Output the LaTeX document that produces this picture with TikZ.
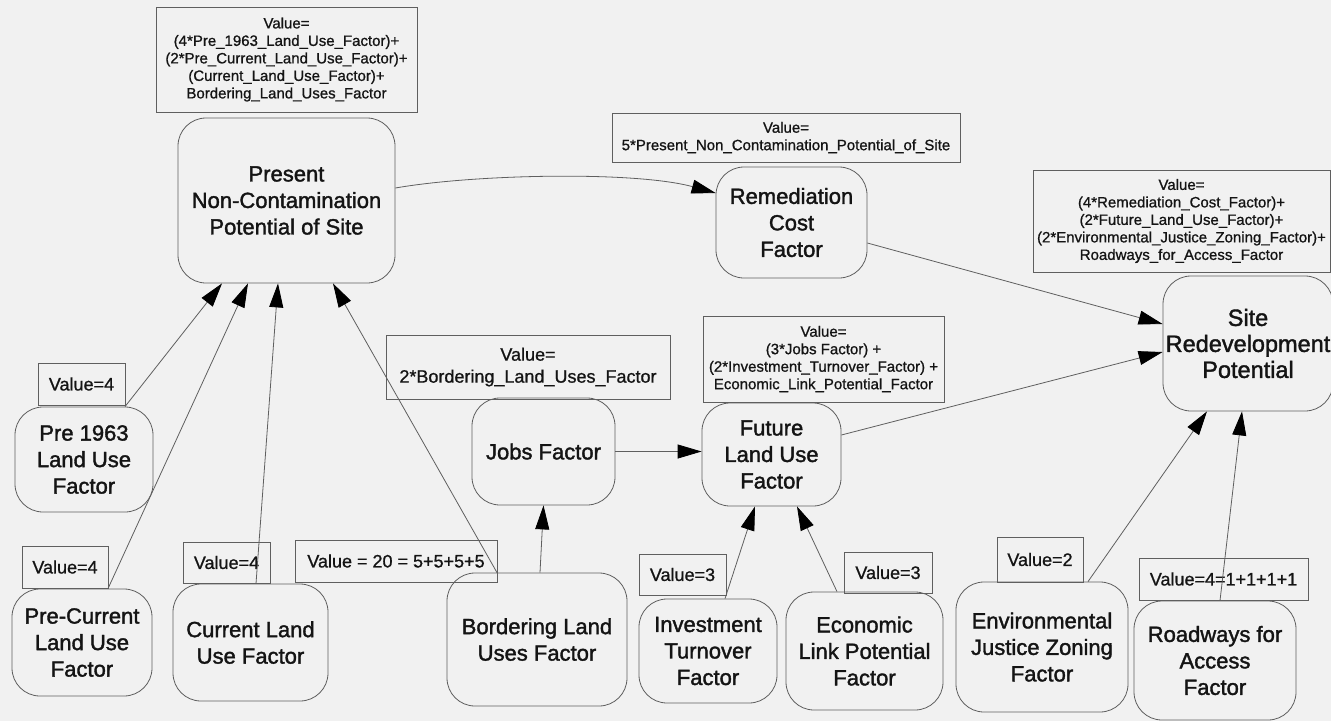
\documentclass[tikz,border=0pt]{standalone}
\usepackage{fontspec}
\setmainfont{Liberation Sans}
\newfontfamily\heavyface{Liberation Sans}[FakeBold=1.6]
\newfontfamily\mediumface{Liberation Sans}[FakeBold=0.9]
\usetikzlibrary{arrows.meta}

\definecolor{paper}{RGB}{241,241,241}
\definecolor{edge}{RGB}{95,95,95}
\definecolor{ink}{RGB}{20,20,20}

\newcommand\factorfont{\heavyface\fontsize{22}{26.5}\selectfont}
\newcommand\sitefont{\heavyface\fontsize{23.5}{26}\selectfont}
\newcommand\formulafont{\mediumface\fontsize{15}{17.5}\selectfont}
\newcommand\valuefont{\mediumface\fontsize{18}{22}\selectfont}

\tikzset{
  factor/.style={draw=edge, line width=0.8pt, rounded corners=28pt, align=center,
                 inner sep=0pt, text=ink, font=\factorfont},
  formula/.style={draw=edge, line width=0.8pt, inner sep=0pt, align=center,
                  text=ink, font=\formulafont},
  valuebox/.style={formula, font=\valuefont},
  link/.style={draw=edge, line width=0.8pt,
               -{Triangle[length=24pt,width=14pt,color=black]}},
}

\begin{document}
\begin{tikzpicture}[x=1pt,y=-1pt]
  \fill[paper] (0,0) rectangle (1331,721);
  \useasboundingbox (0,0) rectangle (1331,721);

  % factor nodes
  \node[factor, minimum width=217, minimum height=165] (pnc) at (286.5,200.5)
    {Present\\Non-Contamination\\Potential of Site};
  \node[factor, minimum width=151, minimum height=111] (rem) at (791.5,222.5)
    {Remediation\\Cost\\Factor};
  \node[factor, font=\sitefont, minimum width=170, minimum height=135] (site) at (1248,343.5)
    {Site\\Redevelopment\\Potential};
  \node[factor, minimum width=138, minimum height=105] (pre) at (84,459.5)
    {Pre 1963\\Land Use\\Factor};
  \node[factor, minimum width=140, minimum height=107] (precur) at (82,642.5)
    {Pre-Current\\Land Use\\Factor};
  \node[factor, minimum width=155, minimum height=117] (cur) at (250.5,642.5)
    {Current Land\\Use Factor};
  \node[factor, minimum width=180, minimum height=133] (bord) at (537,639.5)
    {Bordering Land\\Uses Factor};
  \node[factor, minimum width=143, minimum height=107] (jobs) at (543.5,451.5)
    {Jobs Factor};
  \node[factor, minimum width=139, minimum height=103] (flu) at (771.5,454.5)
    {Future\\Land Use\\Factor};
  \node[factor, minimum width=138, minimum height=104] (inv) at (708,651)
    {Investment\\Turnover\\Factor};
  \node[factor, minimum width=157, minimum height=118] (econ) at (864.5,651)
    {Economic\\Link Potential\\Factor};
  \node[factor, minimum width=172, minimum height=130] (env) at (1042,647)
    {Environmental\\Justice Zoning\\Factor};
  \node[factor, minimum width=162, minimum height=119] (road) at (1215,660.5)
    {Roadways for\\Access\\Factor};

  % value formulas
  \node[formula, minimum width=261, minimum height=105] (pncv) at (286.5,59.5)
    {Value=\\(4*Pre\_1963\_Land\_Use\_Factor)+\\(2*Pre\_Current\_Land\_Use\_Factor)+\\(Current\_Land\_Use\_Factor)+\\Bordering\_Land\_Uses\_Factor};
  \node[formula, minimum width=348, minimum height=49] (remv) at (786,137.5)
    {Value=\\5*Present\_Non\_Contamination\_Potential\_of\_Site};
  \node[formula, minimum width=297, minimum height=102] (sitev) at (1181.5,221)
    {Value=\\(4*Remediation\_Cost\_Factor)+\\(2*Future\_Land\_Use\_Factor)+\\(2*Environmental\_Justice\_Zoning\_Factor)+\\Roadways\_for\_Access\_Factor};
  \node[formula, minimum width=241, minimum height=86] (fluv) at (823.5,359)
    {Value=\\(3*Jobs Factor) +\\(2*Investment\_Turnover\_Factor) +\\Economic\_Link\_Potential\_Factor};
  \node[valuebox, minimum width=284, minimum height=64] (jobsv) at (528,367)
    {Value=\\2*Bordering\_Land\_Uses\_Factor};
  \node[valuebox, minimum width=87, minimum height=42] (prev) at (81.5,384) {Value=4};
  \node[valuebox, minimum width=86, minimum height=42] (precurv) at (65,567) {Value=4};
  \node[valuebox, minimum width=87, minimum height=41] (curv) at (226.5,562.5) {Value=4};
  \node[valuebox, minimum width=202, minimum height=42] (bordv) at (396,561) {Value = 20 = 5+5+5+5};
  \node[valuebox, minimum width=87, minimum height=41] (invv) at (682.5,574.5) {Value=3};
  \node[valuebox, minimum width=88, minimum height=41] (econv) at (888,572.5) {Value=3};
  \node[valuebox, minimum width=86, minimum height=45] (envv) at (1040,559.5) {Value=2};
  \node[valuebox, minimum width=169, minimum height=42] (roadv) at (1223.5,579) {Value=4=1+1+1+1};

  % influence links
  \draw[link] ([yshift=12.5pt]pnc.east) .. controls +(80,-14) and +(-80,-22) .. ([yshift=29.5pt]rem.west);
  \draw[link] ([yshift=-20.5pt]rem.east) -- ([yshift=19.5pt]site.west);
  \draw[link] ([yshift=19.5pt]flu.east) -- ([yshift=-8.5pt]site.west);
  \draw[link] ([xshift=41pt]pre.north) -- ([xshift=-64.5pt]pnc.south);
  \draw[link] ([xshift=26pt]precur.north) -- ([xshift=-38.5pt]pnc.south);
  \draw[link] ([xshift=5.5pt]cur.north) -- ([xshift=-8.5pt]pnc.south);
  \draw[link] ([xshift=-40pt]bord.north) -- ([xshift=46.5pt]pnc.south);
  \draw[link] ([xshift=3pt]bord.north) -- (jobs.south);
  \draw[link] (jobs.east) -- (jobs.east -| flu.west);
  \draw[link] ([xshift=17pt]inv.north) -- ([xshift=-16.5pt]flu.south);
  \draw[link] ([xshift=-27.5pt]econ.north) -- ([xshift=25.5pt]flu.south);
  \draw[link] ([xshift=46pt]env.north) -- ([xshift=-41pt]site.south);
  \draw[link] ([xshift=5pt]road.north) -- ([xshift=-6pt]site.south);
\end{tikzpicture}
\end{document}
